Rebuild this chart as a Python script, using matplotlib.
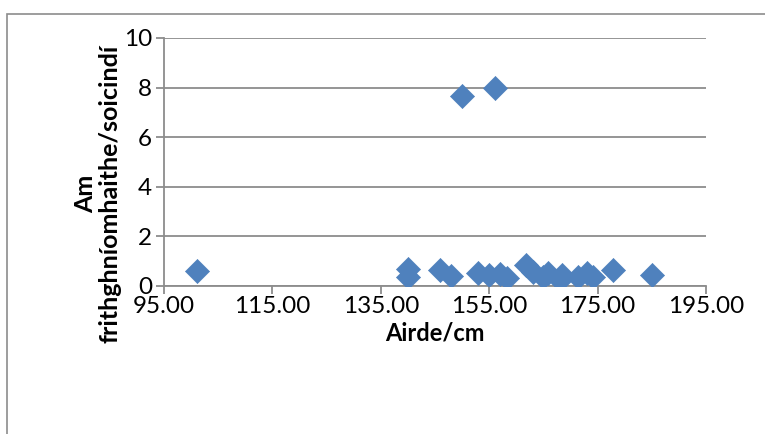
import matplotlib
matplotlib.use("Agg")
import matplotlib.pyplot as plt
from matplotlib.patches import Rectangle

# Height (cm) vs reaction time (s)
airde = [101.1, 140.1, 140.1, 145.9, 147.9, 150.0, 152.9, 155.0, 156.1,
         157.0, 158.3, 161.7, 163.1, 165.0, 165.9, 168.4, 168.1, 171.4,
         173.0, 174.2, 177.9, 185.0]
am = [0.60, 0.67, 0.37, 0.65, 0.40, 7.66, 0.51, 0.44, 8.00,
      0.48, 0.31, 0.85, 0.58, 0.38, 0.54, 0.44, 0.24, 0.38,
      0.51, 0.38, 0.65, 0.44]

x_ticks = [95, 115, 135, 155, 175, 195]
y_ticks = [0, 2, 4, 6, 8, 10]

plt.rcParams['font.family'] = ['Lato', 'DejaVu Sans']

fig = plt.figure(figsize=(7.65, 4.34), dpi=100)
ax = fig.add_axes([164 / 765, 1 - 286 / 434, (706 - 164) / 765, (286 - 38) / 434])

# outer chart frame (cut off on the right and bottom)
fig.patches.append(Rectangle((7 / 765, -0.1), 1.0, 1 - 14 / 434 + 0.1,
                             transform=fig.transFigure, fill=False,
                             edgecolor='#8c8c8c', linewidth=1.2))

ax.scatter(airde, am, marker='D', s=150, color='#4f81bd', zorder=3,
           edgecolors='#4f81bd', linewidths=0.5)

ax.set_xlim(95, 195)
ax.set_ylim(0, 10)
ax.set_xticks(x_ticks)
ax.set_xticklabels([f"{v:.2f}" for v in x_ticks])
ax.set_yticks(y_ticks)
ax.grid(axis='y', color='#8c8c8c', linewidth=1.3)
ax.set_axisbelow(True)

for side in ['top', 'right']:
    ax.spines[side].set_visible(False)
for side in ['left', 'bottom']:
    ax.spines[side].set_color('#8c8c8c')
    ax.spines[side].set_linewidth(1.3)

ax.tick_params(axis='both', colors='#8c8c8c', width=1.3, length=5.5,
               labelsize=17.5, labelcolor='black')
ax.tick_params(axis='y', pad=3)
ax.tick_params(axis='x', pad=2)

fig.text(435 / 765, 1 - 333 / 434, 'Airde/cm', ha='center', va='center',
         fontsize=17, fontweight='bold')
fig.text(98 / 765, 1 - 194 / 434, 'Am\nfrithghníomhaithe/soicindí',
         ha='center', va='center', rotation=90, fontsize=18,
         fontweight='bold', linespacing=1.1)

fig.savefig('out.png', dpi=100)
